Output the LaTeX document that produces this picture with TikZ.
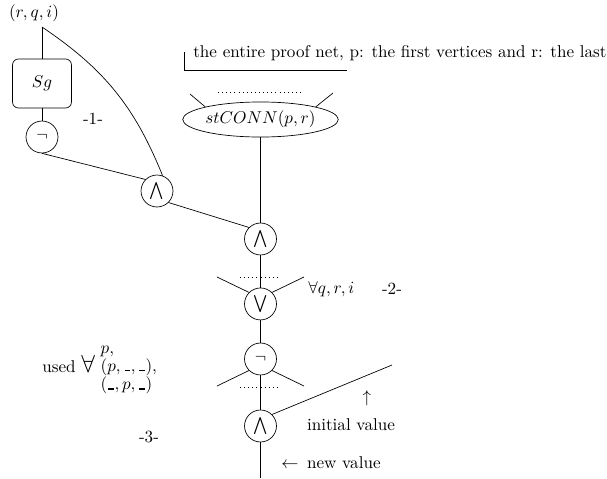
\documentclass[tikz,border=0pt]{standalone}
\usepackage{amsmath, amssymb}
\usepackage{tikz}
\usetikzlibrary{positioning, shapes.geometric}

% hueco corto sobre la linea base
\newcommand{\blank}{\kern0.06em\rule{0.3em}{0.7pt}\kern0.06em}

\begin{document}
\begin{tikzpicture}[
        x=0.585pt, y=-0.585pt,
        on grid,
        % Estilos de los nodos
        gate/.style={
            circle,
            draw,
            minimum size=18.7pt,
            inner sep=0pt
        },
        sgbox/.style={
            rectangle,
            draw,
            rounded corners=3.5pt,
            minimum width=34.5pt,
            minimum height=28.7pt
        },
        connbox/.style={
            ellipse,
            draw,
            inner sep=0pt,
            minimum width=76.6pt,
            minimum height=20.5pt
        },
        tag/.style={inner sep=0pt},
        % Estilo de los cortes
        cut/.style={dotted}
    ]
    \useasboundingbox (0,0) rectangle (607,478);

    % -- Nota superior --
    \node[tag, anchor=base west] (note) at (193,57) {the entire proof net, p: the first vertices and r: the last};
    \draw (184,52) -- (184,70) -- (347,70);

    % -- Rama izquierda --
    \coordinate (top) at (42,27);
    \node[tag] (rqi) at (34,13) {$(r,q,i)$};
    \node[sgbox] (sg) at (42,83.5) {$Sg$};
    \node[gate] (neg1) at (42,137) {$\neg$};
    \node[gate] (and1) at (157,191) {$\bigwedge$};
    \node[tag] (one) at (93,119) {-1-};

    % -- Cadena central --
    \node[connbox] (conn) at (260.5,119.5) {$stCONN(p,r)$};
    \node[gate, below=69.9pt of conn] (and2) {$\bigwedge$};
    \node[gate, below=38pt of and2] (vee) {$\bigvee$};
    \node[gate, below=32.2pt of vee] (neg2) {$\neg$};
    \node[gate, below=39.2pt of neg2] (and3) {$\bigwedge$};

    % -- Extremos libres --
    \coordinate (cl1) at (190,94);
    \coordinate (cr1) at (333,93);
    \coordinate (cl2) at (217,277);
    \coordinate (cr2) at (304,277);
    \coordinate (cl3) at (217,386);
    \coordinate (cr3) at (304,386);
    \coordinate (init) at (392,365);
    \coordinate (bot) at (260.5,478);

    % -- Etiquetas --
    \node[tag, anchor=west] (allq) at (308,289) {$\forall q,r,i$};
    \node[tag] (two) at (392,289) {-2-};
    \node[tag, anchor=west] (used) at (42,368) {used {\Large$\forall$} {\renewcommand{\arraystretch}{0.85}$\begin{array}{@{}l@{}} p,\\ (p,\blank,\blank),\\ (\blank,p,\blank) \end{array}$}};
    \node[tag] (three) at (149,437) {-3-};
    \node[tag] (up) at (367,398) {$\uparrow$};
    \node[tag] (initv) at (351,425) {initial value};
    \node[tag] (newv) at (331,463) {$\leftarrow$\enspace new value};

    % -- Conexiones --
    \draw (top) -- (sg);
    \draw (sg) -- (neg1);
    \draw (top) to[out=-34, in=112] (and1.70);
    \draw (neg1.south) -- (and1.north west);
    \draw (and1.south east) -- (and2.north west);
    \draw (conn) -- (and2);
    \draw (and2) -- (vee);
    \draw (vee) -- (neg2);
    \draw (neg2) -- (and3);
    \draw (and3) -- (bot);
    \draw (and3.north east) -- (init);

    % -- Premisas y cortes --
    \draw (conn.north west) -- (cl1);
    \draw (conn.north east) -- (cr1);
    \draw[cut] (218,92) -- (302,92);
    \draw (vee.north west) -- (cl2);
    \draw (vee.north east) -- (cr2);
    \draw[cut] (240,277) -- (280,277);
    \draw (neg2.south west) -- (cl3);
    \draw (neg2.south east) -- (cr3);
    \draw[cut] (240,387) -- (280,387);

\end{tikzpicture}
\end{document}
